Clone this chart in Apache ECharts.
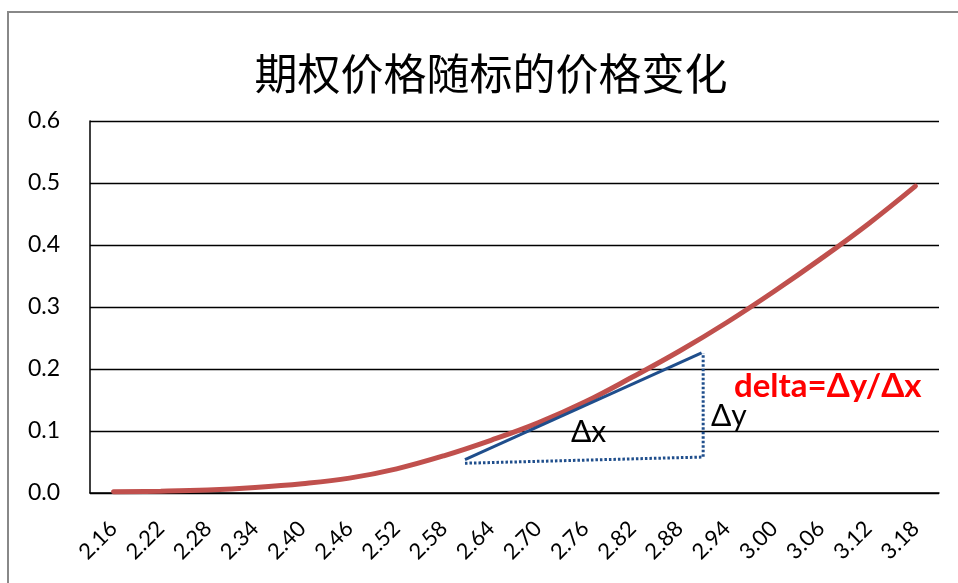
<!DOCTYPE html>
<html>
<head>
<meta charset="utf-8">
<script src="https://cdn.jsdelivr.net/npm/echarts@6/dist/echarts.min.js"></script>
<style>
  html, body { margin: 0; padding: 0; background: #fff; }
  #chart { width: 958px; height: 583px; }
</style>
</head>
<body>
<div id="chart"></div>
<script>
// Underlying price levels (x categories)
const underlyingPrices = ['2.16', '2.22', '2.28', '2.34', '2.40', '2.46', '2.52', '2.58', '2.64',
  '2.70', '2.76', '2.82', '2.88', '2.94', '3.00', '3.06', '3.12', '3.18'];
// Option price at each underlying price
const optionPrices = [0.002, 0.003, 0.005, 0.009, 0.015, 0.024, 0.039, 0.060, 0.085,
  0.113, 0.147, 0.187, 0.229, 0.275, 0.325, 0.378, 0.434, 0.495];
// Tangent segment [underlying, option price]
const tangentLine = [[2.607, 0.054], [2.908, 0.226]];
// Δx / Δy guide (dotted)
const deltaGuide = [[2.607, 0.048], [2.910, 0.058], [2.910, 0.226]];
// Y ticks
const yTicks = { min: 0, max: 0.6, step: 0.1 };

const chart = echarts.init(document.getElementById('chart'));
const font = 'Lato, "Open Sans", sans-serif';

chart.setOption({
  backgroundColor: '#fff',
  animation: false,
  title: {
    text: '期权价格随标的价格变化',
    left: 486,
    top: 47,
    textAlign: 'center',
    textStyle: { fontFamily: '"Noto Sans CJK SC", sans-serif', fontSize: 43, fontWeight: 'normal', color: '#000' }
  },
  grid: { left: 90, right: 19, top: 121, bottom: 90, containLabel: false },
  xAxis: [{
    type: 'category',
    data: underlyingPrices,
    boundaryGap: true,
    axisLine: { lineStyle: { color: '#000', width: 1.5 } },
    axisTick: { inside: true, length: 8, lineStyle: { color: '#000', width: 1.2 } },
    axisLabel: { rotate: 45, margin: 32, color: '#000', fontFamily: font, fontSize: 22, interval: 0 },
    splitLine: { show: false }
  }, {
    type: 'value',
    min: 2.13,
    max: 3.21,
    show: false
  }],
  yAxis: {
    type: 'value',
    min: yTicks.min,
    max: yTicks.max,
    interval: yTicks.step,
    axisLine: { show: true, lineStyle: { color: '#000', width: 1.5 } },
    axisTick: { show: false },
    axisLabel: { margin: 30, color: '#000', fontFamily: font, fontSize: 23,
      formatter: v => v.toFixed(1) },
    splitLine: { lineStyle: { color: '#000', width: 1.3 } }
  },
  series: [{
    type: 'line',
    data: optionPrices,
    smooth: 0.4,
    symbol: 'none',
    lineStyle: { color: '#C0504D', width: 5, cap: 'round' },
    z: 3
  }, {
    type: 'line',
    xAxisIndex: 1,
    data: tangentLine,
    symbol: 'none',
    lineStyle: { color: '#1F4E8C', width: 3 },
    z: 4
  }, {
    type: 'line',
    xAxisIndex: 1,
    data: deltaGuide,
    symbol: 'none',
    lineStyle: { color: '#1F4E8C', width: 3, type: [2.5, 2] },
    z: 4
  }],
  graphic: [{
    type: 'rect',
    shape: { x: 8, y: 12, width: 1000, height: 700 },
    style: { fill: 'none', stroke: '#888', lineWidth: 2 },
    silent: true
  }, {
    type: 'text', left: 571, top: 417,
    style: { text: 'Δx', font: '30px ' + font, fill: '#000' }
  }, {
    type: 'text', left: 711, top: 401,
    style: { text: 'Δy', font: '30px ' + font, fill: '#000' }
  }, {
    type: 'text', left: 734, top: 370,
    style: { text: 'delta=Δy/Δx', font: 'bold 33px ' + font, fill: '#FF0000' }
  }]
});
</script>
</body>
</html>
